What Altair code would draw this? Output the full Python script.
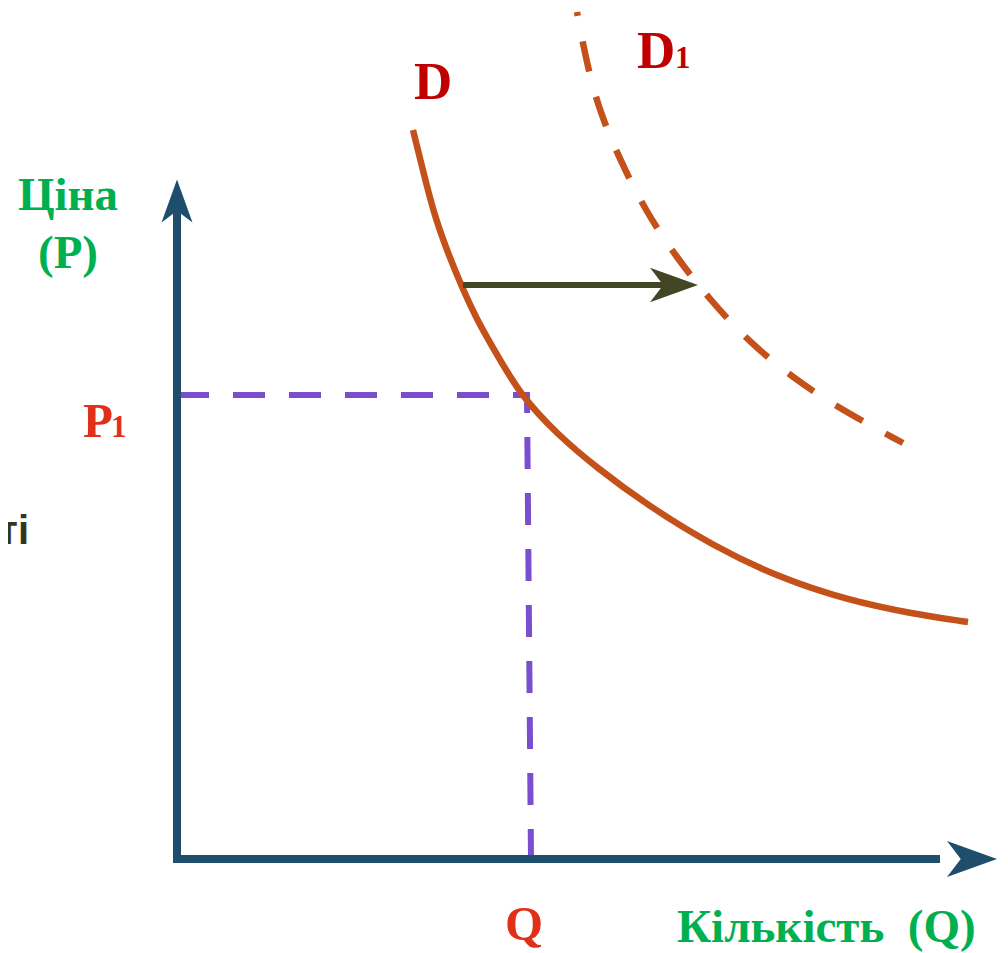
import altair as alt
import pandas as pd

# ---- data (image pixel coordinates) ----
d_x = [413, 427, 436, 448, 461, 477, 496, 521, 558, 597, 647, 713, 780, 847, 913, 968]
d_y = [130, 187, 220, 253, 285, 320, 353, 396, 435, 468, 505, 546, 578, 600, 614, 622]

d1_x = [577, 585, 598, 620, 645, 676, 711, 749, 793, 840, 903]
d1_y = [12, 55, 108, 160, 210, 257, 301, 342, 378, 409, 443]

axis_x = [177, 177, 940]
axis_y = [205, 859, 859]

p1_x = [177, 527, 531]
p1_y = [395, 395, 859]

shift_x = [463, 675]
shift_y = [285, 285]

heads = pd.DataFrame({
    "x": [177, 972, 674],
    "y": [201, 859, 285],
    "angle": [0, 90, 90],
    "size": [1850, 2500, 2300],
    "color": ["#1F4E6C", "#1F4E6C", "#434625"],
})

center_labels = pd.DataFrame({"text": ["Ціна", "(P)"], "x": [68, 68], "y": [210, 268]})
left_labels = pd.DataFrame({"text": ["Кількість\u00a0\u00a0(Q)"], "x": [677], "y": [942]})

red_labels = pd.DataFrame({"text": ["P", "Q"], "x": [83, 505], "y": [437, 940]})
sub_labels = pd.DataFrame({"text": ["1", "1"], "x": [111, 675], "y": [437, 68], "color": ["#E0301A", "#C00000"]})
d_labels = pd.DataFrame({"text": ["D", "D"], "x": [414, 637], "y": [99, 68]})

W, H = 990, 945
xs = alt.Scale(domain=[8, 8 + W], nice=False, zero=False)
ys = alt.Scale(domain=[8, 8 + H], nice=False, zero=False, reverse=True)


def df_line(xv, yv):
    return pd.DataFrame({"x": xv, "y": yv, "o": list(range(len(xv)))})


def X():
    return alt.X("x:Q", scale=xs, axis=None)


def Y():
    return alt.Y("y:Q", scale=ys, axis=None)


axes = alt.Chart(df_line(axis_x, axis_y)).mark_line(
    color="#1F4E6C", strokeWidth=8, strokeCap="butt", strokeJoin="miter"
).encode(x=X(), y=Y(), order="o:Q")

p1 = alt.Chart(df_line(p1_x, p1_y)).mark_line(
    color="#7A4FCF", strokeWidth=6, strokeDash=[32, 24], strokeCap="butt"
).encode(x=X(), y=Y(), order="o:Q")

d_line = alt.Chart(df_line(d_x, d_y)).mark_line(
    color="#C4501A", strokeWidth=6.5, interpolate="basis"
).encode(x=X(), y=Y(), order="o:Q")

d1_line = alt.Chart(df_line(d1_x, d1_y)).mark_line(
    color="#C4501A", strokeWidth=6.5, strokeDash=[31, 26], strokeDashOffset=27,
    interpolate="basis", strokeCap="butt"
).encode(x=X(), y=Y(), order="o:Q")

shift = alt.Chart(df_line(shift_x, shift_y)).mark_line(
    color="#434625", strokeWidth=6, strokeCap="butt"
).encode(x=X(), y=Y(), order="o:Q")

arrow_shape = "M0,-1L0.72,1L0,0.45L-0.72,1Z"
head_marks = alt.Chart(heads).mark_point(
    shape=arrow_shape, filled=True, opacity=1, strokeWidth=0
).encode(
    x=X(), y=Y(),
    angle=alt.Angle("angle:Q", scale=None),
    size=alt.Size("size:Q", scale=None),
    color=alt.Color("color:N", scale=None),
)

green_c = alt.Chart(center_labels).mark_text(
    font="Liberation Serif", fontWeight="bold", fontSize=47, color="#00B050", baseline="alphabetic", align="center"
).encode(x=X(), y=Y(), text="text:N")

green_l = alt.Chart(left_labels).mark_text(
    font="Liberation Serif", fontWeight="bold", fontSize=47, color="#00B050", baseline="alphabetic", align="left"
).encode(x=X(), y=Y(), text="text:N")

red = alt.Chart(red_labels).mark_text(
    font="Liberation Serif", fontWeight="bold", fontSize=49, color="#E0301A", baseline="alphabetic", align="left"
).encode(x=X(), y=Y(), text="text:N")

dl = alt.Chart(d_labels).mark_text(
    font="Liberation Serif", fontWeight="bold", fontSize=53, color="#C00000", baseline="alphabetic", align="left"
).encode(x=X(), y=Y(), text="text:N")

subs = alt.Chart(sub_labels).mark_text(
    font="Liberation Serif", fontWeight="bold", fontSize=31, baseline="alphabetic", align="left"
).encode(x=X(), y=Y(), text="text:N", color=alt.Color("color:N", scale=None))

side = alt.Chart(pd.DataFrame({"text": ["ті"], "x": [29], "y": [544]})).mark_text(
    font="Liberation Sans", fontWeight="bold", fontSize=40, color="#36361F", baseline="alphabetic", align="right"
).encode(x=X(), y=Y(), text="text:N")

chart = alt.layer(
    p1, axes, d_line, d1_line, shift, head_marks, green_c, green_l, red, dl, subs, side
).properties(
    width=W, height=H, padding=0, autosize=alt.AutoSizeParams(type="none")
).configure_view(stroke=None)

chart.save("out.html", embed_options={"renderer": "svg", "actions": False})
